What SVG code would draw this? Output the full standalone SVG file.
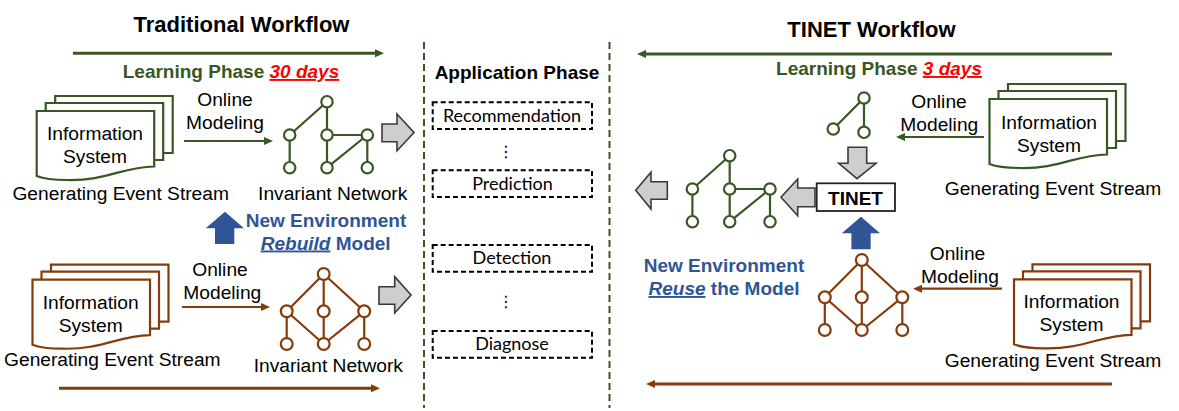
<svg xmlns="http://www.w3.org/2000/svg" xmlns:xlink="http://www.w3.org/1999/xlink" width="1179" height="411" viewBox="0 0 1179 411">
<style>
text{font-family:"Liberation Sans",Arial,sans-serif;fill:#000;text-anchor:middle}
.t{font-size:19.2px}
.h{font-size:22px;font-weight:bold}
.b{font-size:19px;font-weight:bold}
.lg{fill:#385723}
.blue{fill:#2f5597}
.red{fill:#ff0000;font-style:italic;text-decoration:underline}
.it{font-style:italic;text-decoration:underline}
.task{font-family:Lato,"Noto Sans",sans-serif;font-size:18px}
.dash{fill:none;stroke:#000;stroke-width:2;stroke-dasharray:5 3}
.sep{fill:none;stroke:#385723;stroke-width:2;stroke-dasharray:7 4}
.green{stroke:#385723}
.brown{stroke:#843c0c}
.doc,.net{fill:#fff;stroke-width:2.2}
.net line{stroke-width:2.2}
.long{stroke-width:3;fill:none}
.thin{stroke-width:2.2;fill:none}
.gray{fill:#cfcdcd;stroke:#3b3838;stroke-width:1.6}
.up{fill:#2f5597}
</style>
<defs>
<marker id="ag" markerUnits="userSpaceOnUse" markerWidth="10" markerHeight="10" refX="1" refY="5" orient="auto"><path d="M0 1L9 5L0 9Z" fill="#385723"/></marker>
<marker id="ab" markerUnits="userSpaceOnUse" markerWidth="10" markerHeight="10" refX="1" refY="5" orient="auto"><path d="M0 1L9 5L0 9Z" fill="#843c0c"/></marker>
<g id="docShape">
<path d="M18.5 -8V-15H136V42H126.5"/>
<path d="M9 0V-8H126.5V49H117.5"/>
<path d="M0 0H117.5V55.5C85 56 70 70 30 69C15 69 5 67 0 65Z"/>
</g>
<g id="invA">
<path d="M0 0L-37.3 33.3M0 0V66M0 33.3H40.3M40.3 33.3V66M-37.3 33.3V66M40.3 33.3L0 66" fill="none"/>
<g><circle cx="0" cy="0" r="5.7"/><circle cx="-37.3" cy="33.3" r="5.7"/><circle cx="0" cy="33.3" r="5.7"/><circle cx="40.3" cy="33.3" r="5.7"/><circle cx="-37.3" cy="66" r="5.7"/><circle cx="0" cy="66" r="5.7"/><circle cx="40.3" cy="66" r="5.7"/></g>
</g>
<g id="invB">
<path d="M0 0V70M0 0L-37 37.3M0 0L40.5 37.3M-37 37.3V70M40.5 37.3V70M-37 37.3L0 70M40.5 37.3L0 70" fill="none"/>
<g><circle cx="0" cy="0" r="5.9"/><circle cx="-37" cy="37.3" r="5.9"/><circle cx="0" cy="37.3" r="5.9"/><circle cx="40.5" cy="37.3" r="5.9"/><circle cx="-37" cy="70" r="5.9"/><circle cx="0" cy="70" r="5.9"/><circle cx="40.5" cy="70" r="5.9"/></g>
</g>
</defs>

<g id="titles">
<text class="h" x="241.5" y="32">Traditional Workflow</text>
<text class="h" x="871.5" y="37">TINET Workflow</text>
<text class="b" x="517" y="79">Application Phase</text>
<text class="b" x="231" y="78"><tspan class="lg">Learning Phase </tspan><tspan class="red">30 days</tspan></text>
<text class="b" x="879" y="75"><tspan class="lg">Learning Phase </tspan><tspan class="red">3 days</tspan></text>
</g>

<g id="separators">
<line class="sep" x1="424" y1="42" x2="424" y2="408"/>
<line class="sep" x1="609.5" y1="42" x2="609.5" y2="408"/>
</g>

<g id="connectors">
<line class="long green" x1="73" y1="53.3" x2="376" y2="53.3" marker-end="url(#ag)"/>
<line class="long brown" x1="59" y1="388.3" x2="372" y2="388.3" marker-end="url(#ab)"/>
<line class="long green" x1="1112" y1="54" x2="645" y2="54" marker-end="url(#ag)"/>
<line class="long brown" x1="1112" y1="384" x2="654" y2="384" marker-end="url(#ab)"/>
<line class="thin green" x1="184" y1="141" x2="265" y2="141" marker-end="url(#ag)"/>
<line class="thin brown" x1="182" y1="307" x2="262" y2="307" marker-end="url(#ab)"/>
<line class="thin green" x1="984" y1="137" x2="904" y2="137" marker-end="url(#ag)"/>
<line class="thin brown" x1="1002" y1="288.7" x2="921" y2="288.7" marker-end="url(#ab)"/>
</g>

<g id="doc-left-green"><use href="#docShape" x="36.7" y="111" class="doc green"/><text class="t" x="95" y="139.5">Information</text><text class="t" x="95" y="162.5">System</text><text class="t" x="120.7" y="200">Generating Event Stream</text></g>
<g id="doc-left-brown"><use href="#docShape" x="32.5" y="279.7" class="doc brown"/><text class="t" x="90.7" y="308.5">Information</text><text class="t" x="90.7" y="331.5">System</text><text class="t" x="112.3" y="366">Generating Event Stream</text></g>
<g id="doc-right-green"><use href="#docShape" x="989.5" y="99" class="doc green"/><text class="t" x="1049" y="129">Information</text><text class="t" x="1049" y="152">System</text><text class="t" x="1053" y="194.5">Generating Event Stream</text></g>
<g id="doc-right-brown"><use href="#docShape" x="1014" y="279.3" class="doc brown"/><text class="t" x="1071.5" y="308">Information</text><text class="t" x="1071.5" y="331">System</text><text class="t" x="1053" y="367">Generating Event Stream</text></g>

<g id="label-online-1"><text class="t" x="225" y="105.5">Online</text><text class="t" x="225" y="128.5">Modeling</text></g>
<g id="label-online-2"><text class="t" x="220" y="276">Online</text><text class="t" x="222.3" y="299.3">Modeling</text></g>
<g id="label-online-3"><text class="t" x="939" y="107.7">Online</text><text class="t" x="939.3" y="130.7">Modeling</text></g>
<g id="label-online-4"><text class="t" x="957.5" y="260">Online</text><text class="t" x="960" y="282.7">Modeling</text></g>

<g id="net-left-green"><use href="#invA" x="327" y="101.7" class="net green"/><text class="t" x="332.7" y="200">Invariant Network</text></g>
<g id="net-left-brown"><use href="#invB" x="323.7" y="274" class="net brown"/><text class="t" x="328.3" y="372">Invariant Network</text></g>
<g id="net-result"><use href="#invA" x="729.7" y="155.7" class="net green"/></g>
<g id="net-small">
<path class="green" d="M864 98V132.3M864 98L833.3 129" fill="none" stroke-width="2.2"/>
<circle class="net green" cx="864" cy="98" r="5.7"/><circle class="net green" cx="833.3" cy="129" r="5.7"/><circle class="net green" cx="864" cy="132.3" r="5.7"/>
</g>
<g id="net-right-brown"><use href="#invB" x="861.8" y="260" class="net brown"/></g>

<g id="tinet"><rect x="816.7" y="183.3" width="78.3" height="27.7" fill="#fff" stroke="#222" stroke-width="1.8"/><text x="855.5" y="205" font-size="19" font-weight="bold">TINET</text></g>

<g id="block-arrows">
<path class="gray" d="M382 124H397V114L414 132.5L397 150.7V141.7H382Z"/>
<path class="gray" d="M379 286.7H394.7V276.7L411 295L394.7 313V304.3H379Z"/>
<path class="gray" d="M667.3 181.7H651V172.3L635.7 190.3L651 209V199.3H667.3Z"/>
<path class="gray" d="M815 188H797.7V179L781 197.3L797.7 215.7V206.7H815Z"/>
<path class="gray" d="M848 147.3H866.7V163.3H876L857 178.7L838.7 163.3H848Z"/>
<path class="up" d="M225 211.7L244 228.3H234.3V244H215V228.3H205.7Z"/>
<path class="up" d="M861 216.7L880 233.3H870.7V249.3H851.4V233.3H841.8Z"/>
</g>

<g id="env-left"><text class="b blue" x="326" y="226.7">New Environment</text><text class="b blue" x="325.7" y="249.5"><tspan class="it">Rebuild</tspan> Model</text></g>
<g id="env-right"><text class="b blue" x="724" y="271.7">New Environment</text><text class="b blue" x="724" y="295"><tspan class="it">Reuse</tspan> the Model</text></g>

<g id="task-recommendation"><rect class="dash" x="432.7" y="102.3" width="159.3" height="26.7"/><text class="task" x="512" y="122">Recommendation</text></g>
<g id="task-prediction"><rect class="dash" x="432.7" y="170.3" width="159.3" height="26.7"/><text class="task" x="512.5" y="190">Prediction</text></g>
<g id="task-detection"><rect class="dash" x="432.7" y="245" width="159.3" height="26.7"/><text class="task" x="512" y="264">Detection</text></g>
<g id="task-diagnose"><rect class="dash" x="432.7" y="331" width="159.3" height="26.7"/><text class="task" x="512" y="350">Diagnose</text></g>
<g id="ellipses"><text x="506" y="157" font-size="16" style="font-family:'DejaVu Sans',sans-serif">⋮</text><text x="506" y="307" font-size="16" style="font-family:'DejaVu Sans',sans-serif">⋮</text></g>
</svg>
